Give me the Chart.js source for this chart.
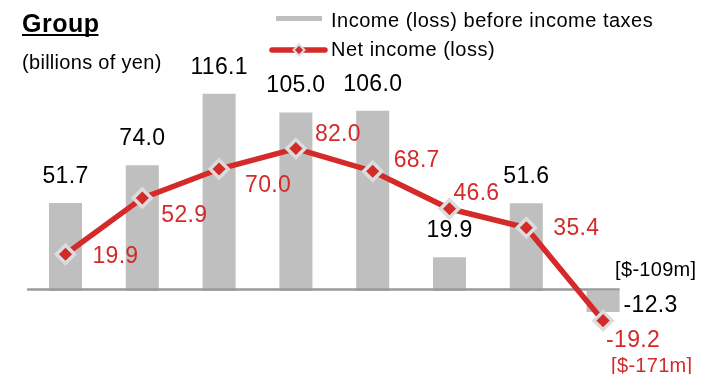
<!DOCTYPE html>
<html>
<head>
<meta charset="utf-8">
<script src="https://cdn.jsdelivr.net/npm/chart.js@4.4.1/dist/chart.umd.min.js"></script>
<style>
  html, body { margin: 0; padding: 0; background: #fff; }
  #wrap { width: 701px; height: 374px; position: relative; }
</style>
</head>
<body>
<div id="wrap"><canvas id="c" width="701" height="374"></canvas></div>
<script>
// Fiscal periods (no axis labels are shown)
const categories = ['1', '2', '3', '4', '5', '6', '7', '8'];
// Income (loss) before income taxes, billions of yen
const pretaxIncome = [51.7, 74.0, 116.1, 105.0, 106.0, 19.9, 51.6, -12.3];
// Net income (loss), billions of yen
const netIncome = [19.9, 52.9, 70.0, 82.0, 68.7, 46.6, 35.4, -19.2];
// US dollar equivalents noted for the loss year
const pretaxUsdNotes = [null, null, null, null, null, null, null, '[$-109m]'];
const netUsdNotes = [null, null, null, null, null, null, null, '[$-171m]'];
const seriesNames = ['Income (loss) before income taxes', 'Net income (loss)'];
const chartTitle = 'Group';
const unitNote = '(billions of yen)';

const GRAY = '#bfbfbf';
const RED = '#d42a2a';
const BORDER = '#dcdcdc';
const FONT = '"Liberation Sans", Arial, Helvetica, sans-serif';

// label placement for the net income values: [dx to left edge, dy to baseline]
const netLabelOffsets = [[27, 9], [19, 24], [26, 23], [19, -8], [21, -4], [4, -9], [27, 7], [3, 26]];

function drawText(ctx, s, x, y, font, color, align, spacing) {
  ctx.save();
  ctx.font = font;
  ctx.fillStyle = color;
  ctx.textAlign = align || 'left';
  ctx.textBaseline = 'alphabetic';
  ctx.letterSpacing = (spacing === undefined ? 0.3 : spacing) + 'px';
  ctx.fillText(s, x, y);
  const w = ctx.measureText(s).width;
  ctx.restore();
  return w;
}

function diamond(ctx, x, y, r, fill, stroke, lw) {
  ctx.save();
  ctx.beginPath();
  ctx.moveTo(x, y - r);
  ctx.lineTo(x + r, y);
  ctx.lineTo(x, y + r);
  ctx.lineTo(x - r, y);
  ctx.closePath();
  ctx.fillStyle = fill;
  ctx.fill();
  ctx.lineWidth = lw;
  ctx.strokeStyle = stroke;
  ctx.stroke();
  ctx.restore();
}

// zero line drawn right after the bars, underneath the net income line
const zeroLine = {
  id: 'zeroLine',
  afterDatasetDraw(chart, args) {
    if (args.index !== 1) return;
    const ctx = chart.ctx;
    const y = chart.scales.y1.getPixelForValue(0) + 1.5;
    const barMeta = chart.getDatasetMeta(1);
    const last = barMeta.data[barMeta.data.length - 1];
    ctx.save();
    ctx.strokeStyle = '#9a9a9a';
    ctx.lineWidth = 2.5;
    ctx.beginPath();
    ctx.moveTo(chart.chartArea.left, y);
    ctx.lineTo(last.x + last.width / 2, y);
    ctx.stroke();
    ctx.restore();
  }
};

// title, legend and value labels
const annotations = {
  id: 'annotations',
  afterDraw(chart) {
    const ctx = chart.ctx;
    // title with underline
    const tw = drawText(ctx, chartTitle, 22, 32, 'bold 25px ' + FONT, '#000', 'left', 0.5);
    ctx.fillStyle = '#000';
    ctx.fillRect(22, 34, tw - 1, 2);
    drawText(ctx, unitNote, 22, 69, '20px ' + FONT, '#000');

    // legend
    ctx.save();
    ctx.lineCap = 'butt';
    ctx.strokeStyle = GRAY;
    ctx.lineWidth = 5;
    ctx.beginPath(); ctx.moveTo(276, 18.5); ctx.lineTo(322, 18.5); ctx.stroke();
    ctx.lineCap = 'round';
    ctx.strokeStyle = RED;
    ctx.lineWidth = 5.5;
    ctx.beginPath(); ctx.moveTo(272, 50); ctx.lineTo(325, 50); ctx.stroke();
    ctx.restore();
    diamond(ctx, 299, 50, 5.5, RED, BORDER, 2);
    drawText(ctx, seriesNames[0], 331, 27, '20px ' + FONT, '#000', 'left', 0.5);
    drawText(ctx, seriesNames[1], 331, 56, '20px ' + FONT, '#000', 'left', 0.5);

    const numFont = '23px ' + FONT;
    const noteFont = '20px ' + FONT;

    // bar values
    const barMeta = chart.getDatasetMeta(1);
    pretaxIncome.forEach((v, i) => {
      const el = barMeta.data[i];
      const s = v.toFixed(1);
      if (v >= 0) {
        drawText(ctx, s, el.x, el.y - 20, numFont, '#000', 'center');
      } else {
        drawText(ctx, s, el.x + el.width / 2 + 4, el.y, numFont, '#000', 'left');
      }
      if (pretaxUsdNotes[i]) {
        drawText(ctx, pretaxUsdNotes[i], el.x + 12, el.base - 15, noteFont, '#000', 'left');
      }
    });

    // net income values
    const lineMeta = chart.getDatasetMeta(0);
    netIncome.forEach((v, i) => {
      const pt = lineMeta.data[i];
      const [dx, dy] = netLabelOffsets[i];
      drawText(ctx, v.toFixed(1), pt.x + dx, pt.y + dy, numFont, RED, 'left');
      if (netUsdNotes[i]) {
        drawText(ctx, netUsdNotes[i], pt.x + 8, pt.y + 51, noteFont, RED, 'left');
      }
    });
  }
};

new Chart(document.getElementById('c'), {
  data: {
    labels: categories,
    datasets: [
      {
        type: 'line',
        label: seriesNames[1],
        data: netIncome,
        yAxisID: 'y1',
        order: 0,
        borderColor: RED,
        borderWidth: 5.5,
        tension: 0,
        fill: false,
        pointStyle: 'rectRot',
        pointRadius: 9,
        pointBackgroundColor: RED,
        pointBorderColor: BORDER,
        pointBorderWidth: 3.5
      },
      {
        type: 'bar',
        label: seriesNames[0],
        data: pretaxIncome,
        yAxisID: 'y',
        order: 1,
        backgroundColor: GRAY,
        borderWidth: 0,
        categoryPercentage: 1,
        barPercentage: 0.43
      }
    ]
  },
  options: {
    responsive: false,
    animation: false,
    events: [],
    layout: { padding: { left: 27.1, right: 59.5, top: 60, bottom: 34 } },
    plugins: { legend: { display: false }, tooltip: { enabled: false } },
    scales: {
      x: { type: 'category', display: false, offset: true },
      y: { display: false, min: -28.82, max: 135.88 },
      y1: { display: false, min: -30.59, max: 134.12 }
    }
  },
  plugins: [zeroLine, annotations]
});
</script>
</body>
</html>
